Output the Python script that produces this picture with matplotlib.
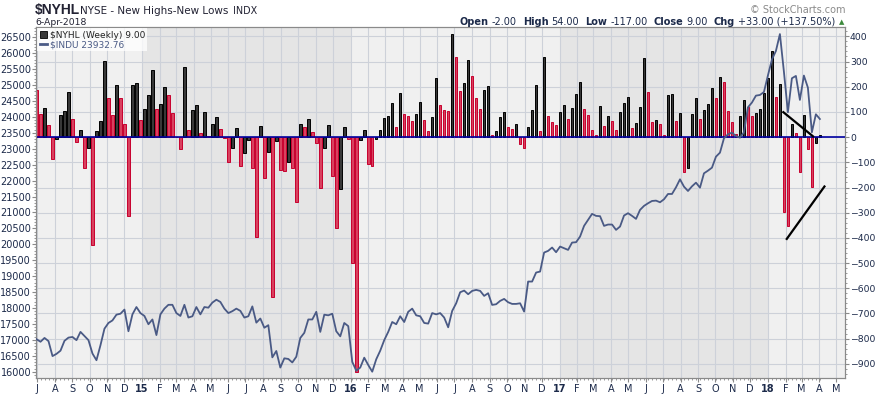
import numpy as np
import pandas as pd
import matplotlib
matplotlib.use('Agg')
import matplotlib.pyplot as plt
from matplotlib.ticker import MultipleLocator
from matplotlib.patches import Patch
from matplotlib.lines import Line2D

plt.rcParams['font.family'] = ['DejaVu Sans']

# $NYHL weekly values (new highs - new lows), week of 30-Jun-2014 .. week of 2-Apr-2018
nyhl = [188, 91, 115, 49, -87, -8, 89, 105, 179, 71,
        -20, 28, -123, -44, -430, 25, 64, 303, 156, 86,
        206, 156, 53, -315, 206, 216, 67, 111, 168, 267,
        112, 132, 200, 168, 97, 0, -48, 278, 28, 107,
        127, 16, 99, 5, 53, 79, 32, -5, -97, -45,
        38, -116, -64, -11, -123, -397, 45, -163, -60, -635,
        -15, -132, -136, -99, -123, -258, 52, 40, 71, 20,
        -24, -203, -44, 49, -156, -361, -206, 40, -8, -500,
        -933, -13, 28, -107, -116, -8, 28, 75, 85, 135,
        41, 175, 91, 85, 64, 91, 139, 67, 24, 79,
        234, 127, 108, 105, 409, 319, 184, 214, 307, 243,
        156, 112, 188, 204, 9, 25, 81, 100, 41, 33,
        53, -28, -44, 41, 108, 206, 25, 318, 85, 60,
        49, 99, 127, 71, 115, 171, 218, 111, 87, 28,
        9, 123, 44, 83, 64, 28, 99, 135, 160, 36,
        56, 119, 314, 179, 60, 67, 53, 9, 167, 171,
        64, 95, -139, -123, 91, 155, 71, 107, 131, 194,
        155, 238, 218, 103, 60, 12, 83, 147, 120, 85,
        95, 111, 175, 234, 343, 160, 210, -298, -351, 52,
        16, -139, 87, -48, -198, -24, 9]

# $INDU weekly close, same weeks
indu = [17020, 16940, 17060, 16960, 16490, 16560, 16660, 16970, 17070, 17090,
        16990, 17250, 17120, 16990, 16570, 16360, 16830, 17350, 17530, 17610,
        17790, 17820, 17950, 17270, 17800, 18030, 17840, 17750, 17490, 17640,
        17150, 17800, 17980, 18100, 18100, 17840, 17750, 18100, 17700, 17740,
        18030, 17800, 18030, 18010, 18170, 18260, 18190, 17980, 17840, 17900,
        17980, 17910, 17700, 17740, 18050, 17540, 17670, 17380, 17460, 16450,
        16650, 16130, 16420, 16400, 16290, 16470, 17060, 17220, 17640, 17640,
        17880, 17250, 17790, 17770, 17820, 17270, 17110, 17530, 17430, 16310,
        16030, 16130, 16440, 16210, 16000, 16390, 16660, 16990, 17250, 17560,
        17490, 17740, 17560, 17880, 17980, 17770, 17740, 17530, 17510, 17840,
        17800, 17840, 17700, 17394, 17908, 18148, 18494, 18547, 18432, 18537,
        18568, 18537, 18380, 18464, 18097, 18118, 18223, 18285, 18180, 18128,
        18128, 18148, 17887, 18830, 18830, 19113, 19144, 19741, 19793, 19898,
        19751, 19929, 19877, 19824, 20054, 20065, 20243, 20578, 20766, 20955,
        20892, 20882, 20578, 20620, 20620, 20453, 20557, 20903, 20976, 20892,
        20798, 21080, 21206, 21288, 21360, 21371, 21319, 21413, 21580, 21580,
        21789, 22040, 21810, 21674, 21820, 21935, 21778, 22228, 22312, 22406,
        22751, 22877, 23327, 23453, 23505, 23400, 23348, 23515, 24300, 24450,
        24667, 24688, 24780, 25300, 25800, 26070, 26600, 25420, 24145, 25213,
        25286, 24533, 25297, 24920, 23517, 24082, 23933]

weeks = pd.date_range('2014-06-30', periods=len(nyhl), freq='W-MON')

# hand drawn trend lines, on the $NYHL scale
trend1_x = pd.to_datetime(['2018-01-28', '2018-03-21'])
trend1_y = [99, 3]
trend2_x = pd.to_datetime(['2018-02-03', '2018-04-10'])
trend2_y = [-404, -196]

# header quote
quote = [('Open', '-2.00'), ('High', '54.00'), ('Low', '-117.00'),
         ('Close', '9.00'), ('Chg', '+33.00 (+137.50%)')]

W, H = 875, 395
txt_col = '#1c2a4a'
line_col = '#4a5a85'

fig = plt.figure(figsize=(W / 100, H / 100), dpi=100)
ax = fig.add_axes([36 / W, 17 / H, 809 / W, 351 / H])
ax.set_facecolor('#f0f0f0')
ax2 = ax.twinx()

# year shading
for yr in (2015, 2017):
    ax.axvspan(pd.Timestamp(f'{yr}-01-01'), pd.Timestamp(f'{yr + 1}-01-01'),
               color='#e5e5e5', lw=0, zorder=0.1)

vals = np.array(nyhl)
up = np.diff(vals, prepend=np.inf) > 0
face = ['#383838' if u else '#d8415f' for u in up]
edge = ['#000000' if u else '#c8002e' for u in up]
ax.bar(weeks, vals, width=4.4, color=face, edgecolor=edge, linewidth=0.7, zorder=2)
ax.axhline(0, color='#0000a0', lw=1.2, zorder=3)

ax.plot(trend1_x, trend1_y, color='black', lw=1.6, zorder=4)
ax.plot(trend2_x, trend2_y, color='black', lw=1.6, zorder=4)

ax2.plot(weeks, indu, color=line_col, lw=1.3, zorder=5)

# axes ranges
ax.set_xlim(weeks[0] - pd.Timedelta(days=0.9), weeks[0] + pd.Timedelta(days=1416))
ax.set_ylim(-956, 437)
ax2.set_ylim(15802, 26822)

# x ticks: month starts
months = pd.date_range('2014-07-01', '2018-05-01', freq='MS')
mlabels = [str(d.year)[2:] if d.month == 1 else d.strftime('%b')[0] for d in months]
ax.set_xticks(months)
ax.set_xticklabels(mlabels)
for lbl, d in zip(ax.get_xticklabels(), months):
    if d.month == 1:
        lbl.set_fontweight('bold')
ax.set_xticks(weeks, minor=True)
ax.tick_params(axis='x', which='major', length=3, pad=1.5, labelsize=7,
               color='#8a8a8a', labelcolor=txt_col)
ax.tick_params(axis='x', which='minor', length=1.5, color='#8a8a8a')

# right axis (NYHL)
ax.yaxis.tick_right()
ax.set_yticks(range(-900, 401, 100))
ax.yaxis.set_minor_locator(MultipleLocator(20))
ax.tick_params(axis='y', which='major', length=3, pad=0.6, labelsize=6.7,
               color='#8a8a8a', labelcolor=txt_col)
ax.tick_params(axis='y', which='minor', length=1.5, color='#8a8a8a')

# left axis (INDU)
ax2.yaxis.tick_left()
ax2.set_yticks(range(16000, 26501, 500))
ax2.yaxis.set_minor_locator(MultipleLocator(100))
ax2.tick_params(axis='y', which='major', length=3, pad=0.5, labelsize=7,
                color='#8a8a8a', labelcolor=txt_col)
ax2.tick_params(axis='y', which='minor', length=1.5, color='#8a8a8a')

ax.grid(True, which='major', color='#cdd1d9', lw=0.8)
ax.set_axisbelow(True)

for a in (ax, ax2):
    for s in a.spines.values():
        s.set_color('#8a8a8a')
        s.set_linewidth(0.8)

# legend
handles = [Patch(facecolor='#383838', edgecolor='black', lw=0.6),
           Line2D([], [], color=line_col, lw=2)]
leg = ax2.legend(handles, ['\\$NYHL (Weekly) 9.00', '\\$INDU 23932.76'],
                 loc='upper left', bbox_to_anchor=(0.0, 1.0), fontsize=6.5,
                 frameon=True, fancybox=False, borderpad=0.25, borderaxespad=0.15,
                 handlelength=0.8, handleheight=0.7, handletextpad=0.3,
                 labelspacing=0.05)
leg.get_frame().set_facecolor('white')
leg.get_frame().set_alpha(0.75)
leg.get_frame().set_linewidth(0)
leg.get_texts()[0].set_color('#222222')
leg.get_texts()[1].set_color(line_col)

# header
def fx(x):
    return x / W

def fy(y):
    return 1 - y / H

fig.text(fx(35), fy(14), '\\$NYHL', fontsize=10, fontweight='bold',
         family=['Liberation Sans', 'DejaVu Sans'], color='#222233', va='baseline')
fig.text(fx(80), fy(14), 'NYSE - New Highs-New Lows', fontsize=7.5,
         color='#222233', va='baseline')
fig.text(fx(233), fy(14), 'INDX', fontsize=6.9, color='#222233', va='baseline')
fig.text(fx(35), fy(25), '6-Apr-2018', fontsize=6.7, color='#222233', va='baseline')
fig.text(fx(845), fy(13), '\u00a9 StockCharts.com', fontsize=7, color='#8a8a8a',
         ha='right', va='baseline')
fig.text(fx(844), fy(24.5), '\u25b2', fontsize=5, color='#3c8a3c', ha='right',
         va='baseline')

r = fig.canvas.get_renderer()
x = 835
for name, val in reversed(quote):
    t = fig.text(fx(x), fy(25), val, fontsize=7, color=txt_col, ha='right', va='baseline')
    x -= t.get_window_extent(r).width + 3
    t = fig.text(fx(x), fy(25), name, fontsize=7, fontweight='bold', color=txt_col,
                 ha='right', va='baseline')
    x -= t.get_window_extent(r).width + 6

fig.savefig('out.png', dpi=100)
